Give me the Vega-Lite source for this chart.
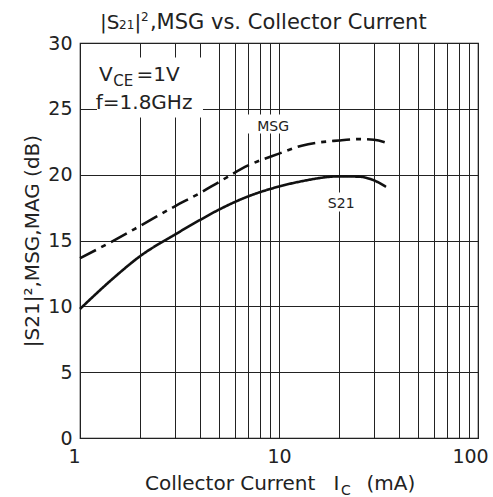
{
  "$schema": "https://vega.github.io/schema/vega-lite/v6.json",
  "width": 398,
  "height": 395,
  "autosize": "none",
  "padding": {"left": 80, "top": 43, "right": 15, "bottom": 59},
  "background": "white",
  "config": {
    "font": "DejaVu Sans",
    "view": {"stroke": "#111", "strokeWidth": 1.2},
    "axis": {
      "grid": true,
      "gridColor": "#222",
      "gridOpacity": 1,
      "gridWidth": 1,
      "ticks": false,
      "domain": false,
      "labelFont": "DejaVu Sans",
      "labelFontSize": 19,
      "labelColor": "#222",
      "titleFont": "DejaVu Sans",
      "titleFontSize": 20,
      "titleFontWeight": "normal",
      "titleColor": "#222"
    },
    "axisY": {"labelPadding": 8, "titlePadding": 5},
    "axisX": {"labelPadding": 9, "labelFlush": false}
  },
  "datasets": {
    "curves": [
      {"series": "MSG", "I": 1, "v": 13.65},
      {"series": "MSG", "I": 1.5, "v": 15.05},
      {"series": "MSG", "I": 2, "v": 16.1},
      {"series": "MSG", "I": 3, "v": 17.6},
      {"series": "MSG", "I": 4, "v": 18.6},
      {"series": "MSG", "I": 5, "v": 19.45},
      {"series": "MSG", "I": 7, "v": 20.7},
      {"series": "MSG", "I": 10, "v": 21.6},
      {"series": "MSG", "I": 13, "v": 22.2},
      {"series": "MSG", "I": 20, "v": 22.6},
      {"series": "MSG", "I": 25, "v": 22.7},
      {"series": "MSG", "I": 30, "v": 22.65},
      {"series": "MSG", "I": 35, "v": 22.4},
      {"series": "S21", "I": 1, "v": 9.8},
      {"series": "S21", "I": 1.5, "v": 12.25},
      {"series": "S21", "I": 2, "v": 13.8},
      {"series": "S21", "I": 3, "v": 15.45},
      {"series": "S21", "I": 4, "v": 16.55},
      {"series": "S21", "I": 5, "v": 17.35},
      {"series": "S21", "I": 7, "v": 18.35},
      {"series": "S21", "I": 10, "v": 19.1},
      {"series": "S21", "I": 13, "v": 19.5},
      {"series": "S21", "I": 20, "v": 19.87},
      {"series": "S21", "I": 25, "v": 19.85},
      {"series": "S21", "I": 30, "v": 19.57},
      {"series": "S21", "I": 34.5, "v": 19.07}
    ],
    "boxes": [
      {"x1": 1.217, "x2": 4.15, "y1": 24.34, "y2": 28.9},
      {"x1": 6.67, "x2": 12.0, "y1": 23.12, "y2": 24.57},
      {"x1": 17.2, "x2": 24.9, "y1": 17.2, "y2": 18.64}
    ],
    "titleText": [
      {"label": ",MSG vs. Collector Current", "x": 2.246, "y": 31.1}
    ],
    "bigText": [
      {"label": "|S", "x": 1.26, "y": 31.1},
      {"label": "|", "x": 1.879, "y": 31.1},
      {"label": "V", "x": 1.245, "y": 27.1},
      {"label": "=1V", "x": 1.925, "y": 27.1},
      {"label": "f=1.8GHz", "x": 1.2, "y": 25.0},
      {"label": "Collector Current", "x": 2.12, "y": -3.93},
      {"label": "I", "x": 18.78, "y": -3.93},
      {"label": "(mA)", "x": 27.5, "y": -3.93}
    ],
    "subText": [
      {"label": "CE", "x": 1.47, "y": 26.77}
    ],
    "smallText": [
      {"label": "MSG", "x": 7.77, "y": 23.3},
      {"label": "S21", "x": 17.6, "y": 17.48},
      {"label": "C", "x": 20.5, "y": -4.31}
    ],
    "supText": [
      {"label": "2", "x": 2.025, "y": 31.65},
      {"label": "21", "x": 1.571, "y": 31.1}
    ]
  },
  "layer": [
    {
      "data": {"name": "boxes"},
      "mark": {"type": "rect", "fill": "white", "stroke": null},
      "encoding": {
        "x": {"field": "x1", "type": "quantitative", "title": null,
              "scale": {"type": "log", "domain": [1, 100], "nice": false},
              "axis": {"values": [1,2,3,4,5,6,7,8,9,10,20,30,40,50,60,70,80,90,100], "labelExpr": "datum.value == 1 || datum.value == 10 || datum.value == 100 ? datum.value : ''",
                       "labelAlign": {"expr": "datum.value == 1 ? 'right' : 'center'"},
                       "labelOffset": {"expr": "datum.value == 100 ? -8 : 0"}}},
        "x2": {"field": "x2"},
        "y": {"field": "y1", "type": "quantitative", "title": "|S21|²,MSG,MAG (dB)",
              "scale": {"domain": [0, 30], "nice": false, "zero": false},
              "axis": {"values": [0,5,10,15,20,25,30]}},
        "y2": {"field": "y2"}
      }
    },
    {
      "data": {"name": "curves"},
      "mark": {"type": "line", "color": "#111", "strokeWidth": 2.6, "interpolate": "monotone"},
      "encoding": {
        "x": {"field": "I", "type": "quantitative", "title": null,
              "scale": {"type": "log", "domain": [1, 100], "nice": false},
              "axis": {"values": [1,2,3,4,5,6,7,8,9,10,20,30,40,50,60,70,80,90,100], "labelExpr": "datum.value == 1 || datum.value == 10 || datum.value == 100 ? datum.value : ''",
                       "labelAlign": {"expr": "datum.value == 1 ? 'right' : 'center'"},
                       "labelOffset": {"expr": "datum.value == 100 ? -8 : 0"}}},
        "y": {"field": "v", "type": "quantitative", "title": "|S21|²,MSG,MAG (dB)",
              "scale": {"domain": [0, 30], "nice": false, "zero": false},
              "axis": {"values": [0,5,10,15,20,25,30]}},
        "strokeDash": {"field": "series", "type": "nominal", "legend": null,
              "scale": {"domain": ["MSG", "S21"], "range": [[18, 6, 5, 6], [1, 0]]}}
      }
    },
    {
      "data": {"name": "titleText"},
      "mark": {"type": "text", "align": "left", "baseline": "alphabetic", "fontSize": 21, "color": "#222"},
      "encoding": {
        "x": {"field": "x", "type": "quantitative", "title": null,
              "scale": {"type": "log", "domain": [1, 100], "nice": false},
              "axis": {"values": [1,2,3,4,5,6,7,8,9,10,20,30,40,50,60,70,80,90,100], "labelExpr": "datum.value == 1 || datum.value == 10 || datum.value == 100 ? datum.value : ''",
                       "labelAlign": {"expr": "datum.value == 1 ? 'right' : 'center'"},
                       "labelOffset": {"expr": "datum.value == 100 ? -8 : 0"}}},
        "y": {"field": "y", "type": "quantitative", "title": "|S21|²,MSG,MAG (dB)",
              "scale": {"domain": [0, 30], "nice": false, "zero": false},
              "axis": {"values": [0,5,10,15,20,25,30]}},
        "text": {"field": "label"}
      }
    },
    {
      "data": {"name": "bigText"},
      "mark": {"type": "text", "align": "left", "baseline": "alphabetic", "fontSize": 20, "color": "#222"},
      "encoding": {
        "x": {"field": "x", "type": "quantitative", "title": null,
              "scale": {"type": "log", "domain": [1, 100], "nice": false},
              "axis": {"values": [1,2,3,4,5,6,7,8,9,10,20,30,40,50,60,70,80,90,100], "labelExpr": "datum.value == 1 || datum.value == 10 || datum.value == 100 ? datum.value : ''",
                       "labelAlign": {"expr": "datum.value == 1 ? 'right' : 'center'"},
                       "labelOffset": {"expr": "datum.value == 100 ? -8 : 0"}}},
        "y": {"field": "y", "type": "quantitative", "title": "|S21|²,MSG,MAG (dB)",
              "scale": {"domain": [0, 30], "nice": false, "zero": false},
              "axis": {"values": [0,5,10,15,20,25,30]}},
        "text": {"field": "label"}
      }
    },
    {
      "data": {"name": "subText"},
      "mark": {"type": "text", "align": "left", "baseline": "alphabetic", "fontSize": 15, "color": "#222"},
      "encoding": {
        "x": {"field": "x", "type": "quantitative", "title": null,
              "scale": {"type": "log", "domain": [1, 100], "nice": false},
              "axis": {"values": [1,2,3,4,5,6,7,8,9,10,20,30,40,50,60,70,80,90,100], "labelExpr": "datum.value == 1 || datum.value == 10 || datum.value == 100 ? datum.value : ''",
                       "labelAlign": {"expr": "datum.value == 1 ? 'right' : 'center'"},
                       "labelOffset": {"expr": "datum.value == 100 ? -8 : 0"}}},
        "y": {"field": "y", "type": "quantitative", "title": "|S21|²,MSG,MAG (dB)",
              "scale": {"domain": [0, 30], "nice": false, "zero": false},
              "axis": {"values": [0,5,10,15,20,25,30]}},
        "text": {"field": "label"}
      }
    },
    {
      "data": {"name": "smallText"},
      "mark": {"type": "text", "align": "left", "baseline": "alphabetic", "fontSize": 14, "color": "#222"},
      "encoding": {
        "x": {"field": "x", "type": "quantitative", "title": null,
              "scale": {"type": "log", "domain": [1, 100], "nice": false},
              "axis": {"values": [1,2,3,4,5,6,7,8,9,10,20,30,40,50,60,70,80,90,100], "labelExpr": "datum.value == 1 || datum.value == 10 || datum.value == 100 ? datum.value : ''",
                       "labelAlign": {"expr": "datum.value == 1 ? 'right' : 'center'"},
                       "labelOffset": {"expr": "datum.value == 100 ? -8 : 0"}}},
        "y": {"field": "y", "type": "quantitative", "title": "|S21|²,MSG,MAG (dB)",
              "scale": {"domain": [0, 30], "nice": false, "zero": false},
              "axis": {"values": [0,5,10,15,20,25,30]}},
        "text": {"field": "label"}
      }
    },
    {
      "data": {"name": "supText"},
      "mark": {"type": "text", "align": "left", "baseline": "alphabetic", "fontSize": 12, "color": "#222"},
      "encoding": {
        "x": {"field": "x", "type": "quantitative", "title": null,
              "scale": {"type": "log", "domain": [1, 100], "nice": false},
              "axis": {"values": [1,2,3,4,5,6,7,8,9,10,20,30,40,50,60,70,80,90,100], "labelExpr": "datum.value == 1 || datum.value == 10 || datum.value == 100 ? datum.value : ''",
                       "labelAlign": {"expr": "datum.value == 1 ? 'right' : 'center'"},
                       "labelOffset": {"expr": "datum.value == 100 ? -8 : 0"}}},
        "y": {"field": "y", "type": "quantitative", "title": "|S21|²,MSG,MAG (dB)",
              "scale": {"domain": [0, 30], "nice": false, "zero": false},
              "axis": {"values": [0,5,10,15,20,25,30]}},
        "text": {"field": "label"}
      }
    }
  ]
}
